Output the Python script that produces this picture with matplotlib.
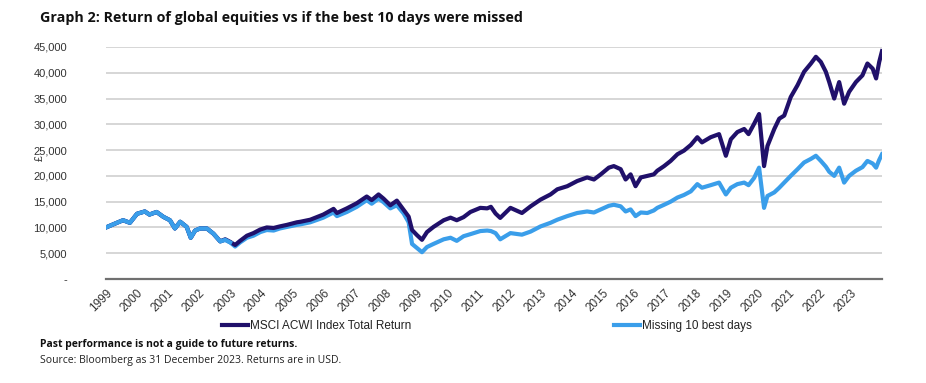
import matplotlib
matplotlib.use("Agg")
import matplotlib.pyplot as plt
from matplotlib.lines import Line2D
from matplotlib.ticker import FuncFormatter

# ---- data (decimal year, values in £) ----
t = [1999.0, 1999.35, 1999.55, 1999.77, 2000.0, 2000.25, 2000.4, 2000.63, 2000.85,
     2001.06, 2001.22, 2001.39, 2001.6, 2001.73, 2001.87, 2002.03, 2002.25, 2002.46,
     2002.68, 2002.84, 2003.0, 2003.16, 2003.32, 2003.54, 2003.75, 2003.97, 2004.18,
     2004.4, 2004.6, 2004.83, 2005.15, 2005.26, 2005.58, 2006.0, 2006.33, 2006.44,
     2006.76, 2007.08, 2007.4, 2007.56, 2007.78, 2007.94, 2008.16, 2008.37, 2008.59,
     2008.75, 2008.86, 2009.02, 2009.18, 2009.34, 2009.55, 2009.88, 2010.1, 2010.3,
     2010.52, 2010.74, 2011.06, 2011.28, 2011.4, 2011.55, 2011.7, 2012.03, 2012.4,
     2012.68, 2013.0, 2013.32, 2013.54, 2013.86, 2014.18, 2014.5, 2014.72, 2014.94,
     2015.2, 2015.36, 2015.58, 2015.74, 2015.9, 2016.06, 2016.23, 2016.44, 2016.65,
     2016.76, 2016.98, 2017.19, 2017.41, 2017.62, 2017.84, 2018.05, 2018.2, 2018.48,
     2018.75, 2018.97, 2019.13, 2019.34, 2019.56, 2019.7, 2019.88, 2020.04, 2020.2,
     2020.31, 2020.53, 2020.69, 2020.85, 2021.06, 2021.28, 2021.49, 2021.71, 2021.87,
     2022.03, 2022.19, 2022.3, 2022.46, 2022.62, 2022.78, 2022.94, 2023.16, 2023.37,
     2023.53, 2023.7, 2023.81, 2023.91, 2024.0]

msci = [10000, 10900, 11400, 10900, 12650, 13100, 12500, 13000, 12050,
        11400, 9800, 11100, 10100, 8000, 9400, 9800, 9800, 8800,
        7300, 7700, 7200, 6600, 7400, 8400, 8900, 9600, 10000,
        9900, 10200, 10500, 11000, 11100, 11500, 12500, 13600, 12800,
        13700, 14700, 16000, 15300, 16400, 15600, 14300, 15200, 13400,
        12100, 9500, 8500, 7600, 9100, 10100, 11400, 11900, 11400,
        12000, 13000, 13800, 13700, 14000, 12700, 11850, 13800, 12800,
        14100, 15400, 16400, 17400, 18000, 19000, 19700, 19300, 20300,
        21600, 21900, 21300, 19300, 20300, 18000, 19700, 20000, 20300,
        21000, 21900, 22900, 24200, 24900, 26000, 27500, 26500, 27500,
        28100, 23900, 27100, 28500, 29100, 28100, 30100, 32000, 21900,
        25800, 29100, 31100, 31700, 35300, 37600, 40200, 41800, 43100,
        42100, 40200, 38200, 35000, 38200, 34000, 36300, 38200, 39500,
        41800, 40800, 38900, 42100, 44200]

missing = [10000, 10900, 11400, 10900, 12650, 13100, 12500, 13000, 12050,
           11400, 9800, 11100, 10100, 8000, 9400, 9800, 9800, 8800,
           7300, 7600, 7100, 6300, 7100, 8000, 8400, 9100, 9500,
           9400, 9800, 10100, 10500, 10600, 11000, 11900, 12900, 12200,
           13000, 14000, 15300, 14600, 15600, 14900, 13700, 14300, 12700,
           11000, 6800, 6000, 5200, 6200, 6800, 7700, 8000, 7400,
           8300, 8700, 9300, 9400, 9300, 8900, 7700, 8900, 8600,
           9200, 10200, 10900, 11500, 12200, 12800, 13100, 12900, 13500,
           14200, 14400, 14100, 13100, 13500, 12200, 12900, 12800, 13300,
           13800, 14400, 15000, 15800, 16300, 17000, 18400, 17700, 18200,
           18700, 16400, 17700, 18400, 18700, 18200, 19600, 21600, 13800,
           16100, 16800, 17700, 18700, 20000, 21300, 22600, 23300, 23900,
           22900, 21800, 20800, 20000, 21600, 18700, 20000, 21000, 21700,
           22900, 22400, 21600, 23100, 24200]

years = list(range(1999, 2024))
yticks = [0, 5000, 10000, 15000, 20000, 25000, 30000, 35000, 40000, 45000]

series_names = ["MSCI ACWI Index Total Return", "Missing 10 best days"]
title = "Graph 2: Return of global equities vs if the best 10 days were missed"
note1 = "Past performance is not a guide to future returns."
note2 = "Source: Bloomberg as 31 December 2023. Returns are in USD."

DARK = "#20106a"
LIGHT = "#3a9eea"
LW = 3.0

plt.rcParams['font.family'] = ['Liberation Sans', 'DejaVu Sans']

W, H = 926, 383
fig = plt.figure(figsize=(W / 100, H / 100), dpi=100)
ax = fig.add_axes([106 / W, 1 - 279 / H, (882 - 106) / W, (279 - 47) / H])

ax.plot(t, missing, color=LIGHT, lw=LW, solid_joinstyle='round', zorder=3)
ax.plot(t, msci, color=DARK, lw=LW, solid_joinstyle='round', zorder=4)
# where both series coincide (before the missed days) the light line shows on top
ax.plot(t[:21], missing[:21], color=LIGHT, lw=LW, solid_joinstyle='round', zorder=5)

ax.set_xlim(1999, 2024)
ax.set_ylim(0, 45000)
ax.set_yticks(yticks)
ax.yaxis.set_major_formatter(FuncFormatter(lambda v, p: "-" if v == 0 else f"{int(v):,}"))
ax.set_xticks(years)
ax.set_xticklabels([str(y) for y in years], rotation=45, ha='right',
                   rotation_mode='anchor', fontsize=8.5, color='#333333')
ax.tick_params(axis='both', length=0)
ax.tick_params(axis='y', pad=28, labelsize=8, labelcolor='#333333')
ax.tick_params(axis='x', pad=6)
ax.grid(axis='y', color='#d0d0d0', lw=1.2)
ax.set_axisbelow(True)
for s in ['top', 'right', 'left']:
    ax.spines[s].set_visible(False)
ax.spines['bottom'].set_color('#707070')
ax.spines['bottom'].set_linewidth(1.6)

fig.text(40 / W, 1 - 158 / H, "£", rotation=90, fontsize=7.5, color='#333333',
         ha='center', va='center')

fig.text(40 / W, 1 - 18 / H, title, fontsize=10.3, fontweight='bold',
         family=['Open Sans', 'DejaVu Sans'], ha='left', va='center', color='#111111')

h1 = Line2D([], [], color=DARK, lw=LW)
h2 = Line2D([], [], color=LIGHT, lw=LW)
leg1 = fig.legend([h1], [series_names[0]], loc='center left',
                  bbox_to_anchor=(216 / W, 1 - 326 / H), frameon=False,
                  fontsize=8.5, handlelength=2.2, handletextpad=0.15, borderpad=0)
leg2 = fig.legend([h2], [series_names[1]], loc='center left',
                  bbox_to_anchor=(608 / W, 1 - 326 / H), frameon=False,
                  fontsize=8.5, handlelength=2.2, handletextpad=0.15, borderpad=0)
for lg in (leg1, leg2):
    for tx in lg.get_texts():
        tx.set_color('#222222')

fig.text(40 / W, 1 - 344 / H, note1, fontsize=7.5, fontweight='bold',
         family=['Open Sans', 'DejaVu Sans'], ha='left', va='center', color='#111111')
fig.text(40 / W, 1 - 360 / H, note2, fontsize=7.5,
         family=['Open Sans', 'DejaVu Sans'], ha='left', va='center', color='#222222')

fig.savefig("out.png", dpi=100)
